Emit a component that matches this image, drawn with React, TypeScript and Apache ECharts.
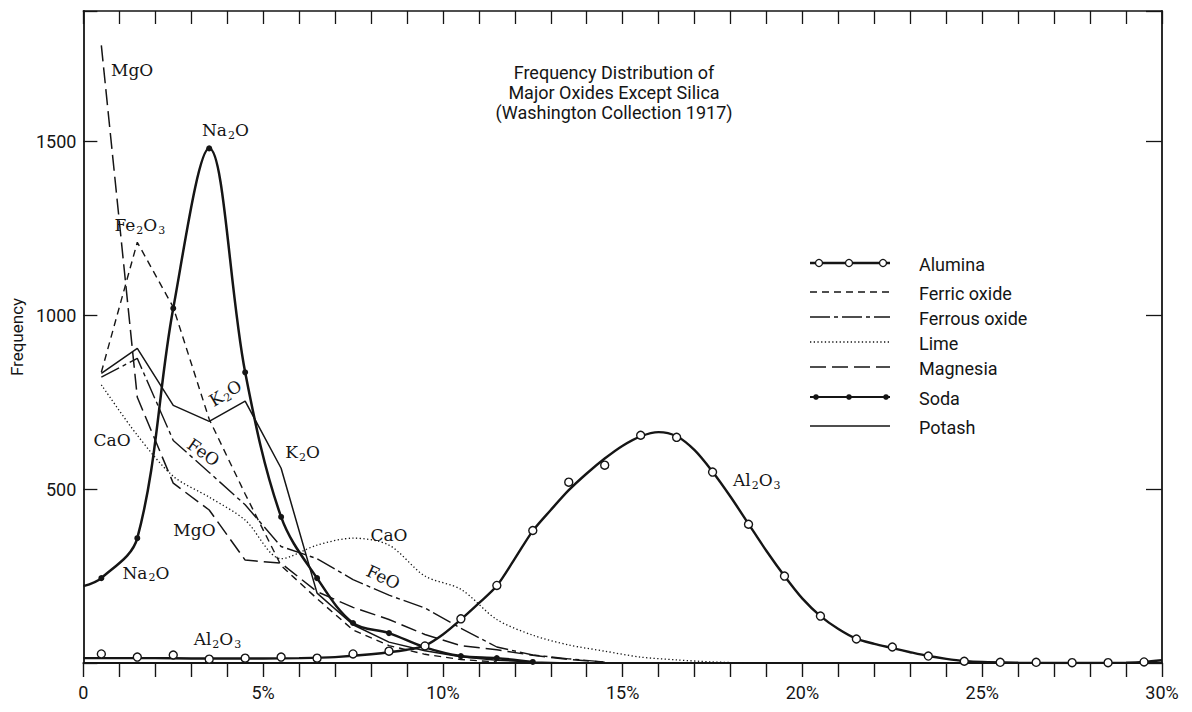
import React, { useEffect, useRef } from "react";
import * as echarts from "echarts";

// ---------- axis ranges / tick labels ----------
const xMin = 0;
const xMax = 30;
const xStep = 1;
const yMin = 0;
const yMax = 1875;
const yStep = 500;
const xTickLabels: Record<number, string> = { 0: "0", 5: "5%", 10: "10%", 15: "15%", 20: "20%", 25: "25%", 30: "30%" };
const yTickLabels: Record<number, string> = { 500: "500", 1000: "1000", 1500: "1500" };

const titleLines = ["Frequency Distribution of", "Major Oxides Except Silica", "(Washington Collection 1917)"];
const yAxisName = "Frequency";

// ---------- data: [percent, frequency] ----------
const aluminaObserved = [
  [0.5, 26], [1.5, 17], [2.5, 23], [3.5, 11], [4.5, 14], [5.5, 17], [6.5, 14], [7.5, 26], [8.5, 34], [9.5, 49],
  [10.5, 127], [11.5, 223], [12.5, 381], [13.5, 520], [14.5, 569], [15.5, 655], [16.5, 649], [17.5, 549],
  [18.5, 399], [19.5, 250], [20.5, 135], [21.5, 69], [22.5, 46], [23.5, 20], [24.5, 5], [25.5, 2], [26.5, 2],
  [27.5, 1], [28.5, 1], [29.5, 3],
];
const aluminaCurve = [
  [0, 14], [1, 14], [2, 14], [3, 13], [4, 13], [5, 13], [6, 14], [7, 17], [8, 25], [9, 38], [9.5, 50],
  [10, 82], [10.5, 125], [11, 172], [11.5, 222], [12, 300], [12.5, 380], [13, 440], [13.5, 497], [14, 545],
  [14.5, 588], [15, 625], [15.5, 652], [16, 664], [16.5, 652], [17, 612], [17.5, 550], [18, 478], [18.5, 400],
  [19, 322], [19.5, 250], [20, 185], [20.5, 135], [21, 98], [21.5, 70], [22, 55], [22.5, 43], [23, 31],
  [23.5, 20], [24, 12], [24.5, 6], [25, 3], [26, 1], [27, 0], [28, 0], [29, 1], [29.5, 3], [30, 8],
];
const ferricOxide = [
  [0.5, 836], [1.5, 1210], [2.5, 1023], [3.5, 701], [4.5, 486], [5.5, 280], [6.5, 185], [7.5, 95],
  [8.5, 50], [9.5, 25], [10.5, 10], [11.5, 3],
];
const ferrousOxide = [
  [0.5, 822], [1.5, 876], [2.5, 640], [3.5, 548], [4.5, 455], [5.5, 335], [6.5, 300], [7.5, 240],
  [8.5, 195], [9.5, 158], [10.5, 100], [11.5, 46], [12.5, 23], [13.5, 12], [14.5, 3],
];
const lime = [
  [0.5, 800], [1.5, 655], [2.5, 537], [3.5, 477], [4.5, 411], [5.5, 300], [6.5, 339], [7.5, 359],
  [8.5, 339], [9.5, 250], [10.5, 212], [11.5, 125], [12.5, 80], [13.5, 52], [14.5, 34], [15.5, 17],
  [16.5, 9], [17.5, 3], [18.5, 0],
];
const magnesia = [
  [0.5, 1776], [1.5, 764], [2.5, 517], [3.5, 440], [4.5, 296], [5.5, 287], [6.5, 205], [7.5, 160],
  [8.5, 125], [9.5, 82], [10.5, 50], [11.5, 38], [12.5, 22], [13.5, 10], [14.5, 2],
];
const soda = [
  [0, 221], [0.5, 244], [1.5, 359], [2.5, 1020], [3.5, 1480], [4.5, 836], [5.5, 420], [6.5, 244],
  [7.5, 115], [8.5, 86], [9.5, 45], [10.5, 20], [11.5, 14], [12.5, 3],
];
const potash = [
  [0.5, 833], [1.5, 905], [2.5, 741], [3.5, 695], [4.5, 753], [5.5, 560], [6.5, 201], [7.5, 110],
  [8.5, 60], [9.5, 35], [10.5, 18], [11.5, 8], [12.5, 3], [13.5, 0],
];

const legendNames = ["Alumina", "Ferric oxide", "Ferrous oxide", "Lime", "Magnesia", "Soda", "Potash"];

// curve annotations in data coordinates
const curveLabels = [
  { text: "MgO", at: [0.77, 1704], rot: 0, align: "left" },
  { text: "Na2O", at: [3.95, 1532], rot: 0, align: "center" },
  { text: "Fe2O3", at: [1.57, 1259], rot: 0, align: "center" },
  { text: "K2O", at: [3.95, 776], rot: 31, align: "center" },
  { text: "CaO", at: [0.8, 641], rot: 0, align: "center" },
  { text: "FeO", at: [3.34, 606], rot: -35, align: "center" },
  { text: "K2O", at: [6.1, 606], rot: 0, align: "center" },
  { text: "MgO", at: [3.09, 382], rot: 0, align: "center" },
  { text: "Na2O", at: [1.74, 259], rot: 0, align: "center" },
  { text: "CaO", at: [8.5, 368], rot: 0, align: "center" },
  { text: "FeO", at: [8.34, 247], rot: -25, align: "center" },
  { text: "Al2O3", at: [3.73, 69], rot: 0, align: "center" },
  { text: "Al2O3", at: [18.73, 526], rot: 0, align: "center" },
];

// ---------- styles ----------
const INK = "#151515";
const SANS = "Roboto, 'DejaVu Sans', sans-serif";
const SERIF = "'DejaVu Serif', 'Liberation Serif', serif";

const lineStyles: Record<string, any> = {
  "Ferric oxide": { width: 1.4, type: [7, 5] },
  "Ferrous oxide": { width: 1.4, type: [20, 4, 4, 4] },
  Lime: { width: 1.3, type: [1.3, 2.4] },
  Magnesia: { width: 1.5, type: [16, 6] },
  Potash: { width: 1.5, type: "solid" },
};

function toRich(formula: string): string {
  const parts = formula.match(/\d+|\D+/g) || [];
  return parts.map((p) => (/\d/.test(p) ? `{s|${p}}` : `{n|${p}}`)).join("");
}

export default function App() {
  const ref = useRef<HTMLDivElement>(null);

  useEffect(() => {
    if (!ref.current) return;
    const chart = echarts.init(ref.current, null, { renderer: "svg" });

    const lineSeries = (name: string, data: number[][], smooth: number | boolean = false) => ({
      name,
      type: "line",
      data,
      smooth,
      symbol: "none",
      lineStyle: { color: INK, ...lineStyles[name] },
      emphasis: { disabled: true },
      z: 2,
    });

    const option: any = {
      animation: false,
      backgroundColor: "#ffffff",
      grid: { left: 76, right: 30, top: 11, bottom: 49, containLabel: false },
      xAxis: [
        {
          type: "value",
          min: xMin,
          max: xMax,
          interval: xStep,
          position: "bottom",
          axisLine: { show: true, onZero: false, lineStyle: { color: INK, width: 1.8 } },
          axisTick: { show: true, inside: false, length: 14, lineStyle: { color: INK, width: 1.4 } },
          axisLabel: {
            margin: 20,
            fontFamily: SANS,
            fontSize: 18,
            color: INK,
            formatter: (v: number) => xTickLabels[v] ?? "",
          },
          splitLine: { show: false },
        },
        {
          type: "value",
          min: xMin,
          max: xMax,
          interval: xStep,
          position: "top",
          axisLine: { show: true, onZero: false, lineStyle: { color: INK, width: 1.6 } },
          axisTick: { show: true, inside: true, length: 13, lineStyle: { color: INK, width: 1.3 } },
          axisLabel: { show: false },
          splitLine: { show: false },
        },
      ],
      yAxis: [
        {
          type: "value",
          min: yMin,
          max: yMax,
          interval: yStep,
          position: "left",
          name: yAxisName,
          nameLocation: "middle",
          nameGap: 50,
          nameTextStyle: { fontFamily: SANS, fontSize: 17, color: INK },
          axisLine: { show: true, onZero: false, lineStyle: { color: INK, width: 1.8 } },
          axisTick: { show: true, inside: true, length: 14, lineStyle: { color: INK, width: 1.3 } },
          axisLabel: {
            margin: 7,
            fontFamily: SANS,
            fontSize: 18,
            color: INK,
            formatter: (v: number) => yTickLabels[v] ?? "",
          },
          splitLine: { show: false },
        },
        {
          type: "value",
          min: yMin,
          max: yMax,
          interval: yStep,
          position: "right",
          axisLine: { show: true, onZero: false, lineStyle: { color: INK, width: 1.8 } },
          axisTick: { show: true, inside: true, length: 16, lineStyle: { color: INK, width: 1.3 } },
          axisLabel: { show: false },
          splitLine: { show: false },
        },
      ],
      series: [
        {
          name: "Alumina",
          type: "line",
          data: aluminaCurve,
          smooth: 0.3,
          symbol: "none",
          lineStyle: { color: INK, width: 2.4 },
          emphasis: { disabled: true },
          z: 3,
        },
        {
          name: "Alumina",
          type: "scatter",
          data: aluminaObserved,
          symbol: "circle",
          symbolSize: 8,
          itemStyle: { color: "#ffffff", borderColor: INK, borderWidth: 1.4, opacity: 1 },
          emphasis: { disabled: true },
          z: 4,
        },
        lineSeries("Ferric oxide", ferricOxide),
        lineSeries("Ferrous oxide", ferrousOxide),
        lineSeries("Lime", lime, 0.3),
        lineSeries("Magnesia", magnesia),
        {
          name: "Soda",
          type: "line",
          data: soda.map((p) => (p[0] === 0 ? { value: p, symbol: "none" } : p)),
          smooth: 0.35,
          symbol: "circle",
          symbolSize: 6,
          showSymbol: true,
          itemStyle: { color: INK, opacity: 1 },
          lineStyle: { color: INK, width: 2.5 },
          emphasis: { disabled: true },
          z: 3,
        },
        lineSeries("Potash", potash),
      ],
    };

    chart.setOption(option);

    // ----- graphics: title, curve labels, legend -----
    const graphics: any[] = [];

    titleLines.forEach((t, i) => {
      graphics.push({
        type: "text",
        x: 614,
        y: 72 + i * 20,
        style: { text: t, fontFamily: SANS, fontSize: 18, fill: INK, align: "center", verticalAlign: "middle" },
        z: 10,
      });
    });

    curveLabels.forEach((lab) => {
      const [px, py] = chart.convertToPixel({ xAxisIndex: 0, yAxisIndex: 0 }, lab.at) as number[];
      graphics.push({
        type: "text",
        x: px,
        y: py,
        rotation: (lab.rot * Math.PI) / 180,
        style: {
          text: toRich(lab.text),
          align: lab.align,
          verticalAlign: "middle",
          rich: {
            n: { fontFamily: SERIF, fontSize: 17, fill: INK, lineHeight: 18 },
            s: { fontFamily: SERIF, fontSize: 11, fill: INK, lineHeight: 11, padding: [10, 0, 0, 1] },
          },
        },
        z: 10,
      });
    });

    // legend layout
    const legendRowY = [263, 292, 317, 342, 367, 397, 426];
    const lx1 = 810;
    const lx2 = 890;
    const textX = 919;
    legendNames.forEach((name, i) => {
      const y = legendRowY[i];
      const children: any[] = [];
      let style: any = { stroke: INK, lineWidth: 1.4 };
      if (name === "Alumina") style = { stroke: INK, lineWidth: 2.4 };
      else if (name === "Soda") style = { stroke: INK, lineWidth: 2.2 };
      else if (name === "Potash") style = { stroke: INK, lineWidth: 1.6 };
      else {
        const ls = lineStyles[name];
        style = { stroke: INK, lineWidth: ls.width, lineDash: Array.isArray(ls.type) ? ls.type : null };
      }
      children.push({ type: "line", shape: { x1: lx1, y1: y, x2: lx2, y2: y }, style });
      if (name === "Alumina") {
        [819, 849, 883].forEach((cx) =>
          children.push({ type: "circle", shape: { cx, cy: y, r: 3.5 }, style: { fill: "#fff", stroke: INK, lineWidth: 1.3 } })
        );
      }
      if (name === "Soda") {
        [816, 849, 886].forEach((cx) =>
          children.push({ type: "circle", shape: { cx, cy: y, r: 2.8 }, style: { fill: INK } })
        );
      }
      children.push({
        type: "text",
        x: textX,
        y: y + 1,
        style: { text: name, fontFamily: SANS, fontSize: 18, fill: INK, align: "left", verticalAlign: "middle" },
      });
      graphics.push({ type: "group", children, z: 10 });
    });

    chart.setOption({ graphic: graphics });

    return () => chart.dispose();
  }, []);

  return (
    <div
      ref={ref}
      style={{ position: "fixed", left: 0, top: 0, width: 1192, height: 712, background: "#fff" }}
    />
  );
}
